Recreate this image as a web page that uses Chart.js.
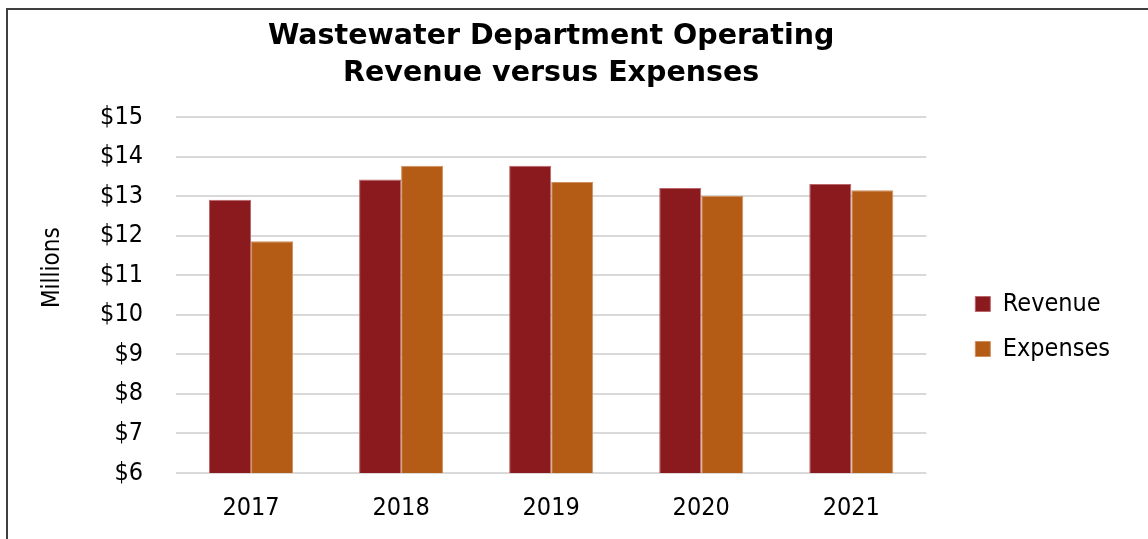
<!DOCTYPE html>
<html>
<head>
<meta charset="utf-8">
<title>Wastewater Department Operating Revenue versus Expenses</title>
<script src="https://cdn.jsdelivr.net/npm/chart.js@4.4.1/dist/chart.umd.min.js"></script>
<style>
  html, body { margin: 0; padding: 0; background: #fff; overflow: hidden; }
  #frame {
    position: absolute; left: 6px; top: 8px; width: 1400px; height: 800px;
    border: 2px solid #3f3f3f; box-sizing: border-box;
  }
  #wrap { position: absolute; left: 0; top: 0; width: 1148px; height: 539px; }
</style>
</head>
<body>
<div id="frame"></div>
<div id="wrap"><canvas id="opChart"></canvas></div>
<script>
// fiscal years and amounts in millions of dollars
const years = ["2017", "2018", "2019", "2020", "2021"];
const revenue = [12.91, 13.42, 13.77, 13.21, 13.31];
const expenses = [11.86, 13.77, 13.36, 13.01, 13.15];

// y axis range, $1M steps
const yMin = 6;
const yMax = 15;
const yStep = 1;

const FONT = '"DejaVu Sans Condensed", "DejaVu Sans", sans-serif';
const TITLE_FONT = '"DejaVu Sans", sans-serif';

// nudge the legend over to the right of the plot area
const legendOffset = {
  id: "legendOffset",
  afterLayout(chart) {
    const lg = chart.legend;
    if (!lg) return;
    const dx = chart.chartArea.right + 29 - lg.left;
    lg.left += dx;
    lg.right += dx;
    lg.top += 57;
    lg.bottom += 57;
  },
};

document.addEventListener("DOMContentLoaded", function () {
  const data = {
    labels: years,
    datasets: [
      {
        label: "Revenue",
        data: revenue,
        backgroundColor: "#8b1a1e",
        borderColor: "#b8666a",
        borderWidth: 1,
      },
      {
        label: "Expenses",
        data: expenses,
        backgroundColor: "#b45b15",
        borderColor: "#d08f5e",
        borderWidth: 1,
      },
    ],
  };

  const config = {
    type: "bar",
    data: data,
    options: {
      responsive: true,
      maintainAspectRatio: false,
      animation: false,
      categoryPercentage: 0.56,
      barPercentage: 1.0,
      layout: {
        padding: { top: 0, left: 0, right: 57, bottom: 0 },
      },
      plugins: {
        title: {
          display: true,
          fullSize: false,
          text: ["Wastewater Department Operating", "Revenue versus Expenses"],
          color: "#000",
          font: { family: TITLE_FONT, size: 28.5, weight: "bold", lineHeight: 1.3 },
          padding: { top: 18, bottom: 25 },
        },
        legend: {
          display: true,
          position: "right",
          labels: {
            color: "#000",
            boxWidth: 15,
            boxHeight: 15,
            padding: 20,
            font: { family: FONT, size: 25 },
          },
        },
        tooltip: { enabled: false },
      },
      scales: {
        x: {
          afterFit: function (scale) {
            scale.height = 66;
          },
          grid: { display: false, drawTicks: false },
          border: { display: false },
          ticks: {
            color: "#000",
            padding: 20,
            font: { family: FONT, size: 25 },
          },
        },
        y: {
          min: yMin,
          max: yMax,
          afterFit: function (scale) {
            scale.width = 176;
          },
          grid: {
            color: "#d9d9d9",
            lineWidth: 2,
            drawTicks: false,
          },
          border: { display: false },
          ticks: {
            stepSize: yStep,
            color: "#000",
            padding: 33,
            font: { family: FONT, size: 25 },
            callback: function (value) {
              return "$" + value;
            },
          },
          title: {
            display: true,
            text: "\u00a0\u00a0\u00a0\u00a0\u00a0\u00a0\u00a0\u00a0Millions",
            color: "#000",
            font: { family: FONT, size: 24 },
            padding: { top: 38, bottom: 0 },
          },
        },
      },
    },
    plugins: [legendOffset],
  };

  const ctx = document.getElementById("opChart").getContext("2d");
  new Chart(ctx, config);
});
</script>
</body>
</html>
